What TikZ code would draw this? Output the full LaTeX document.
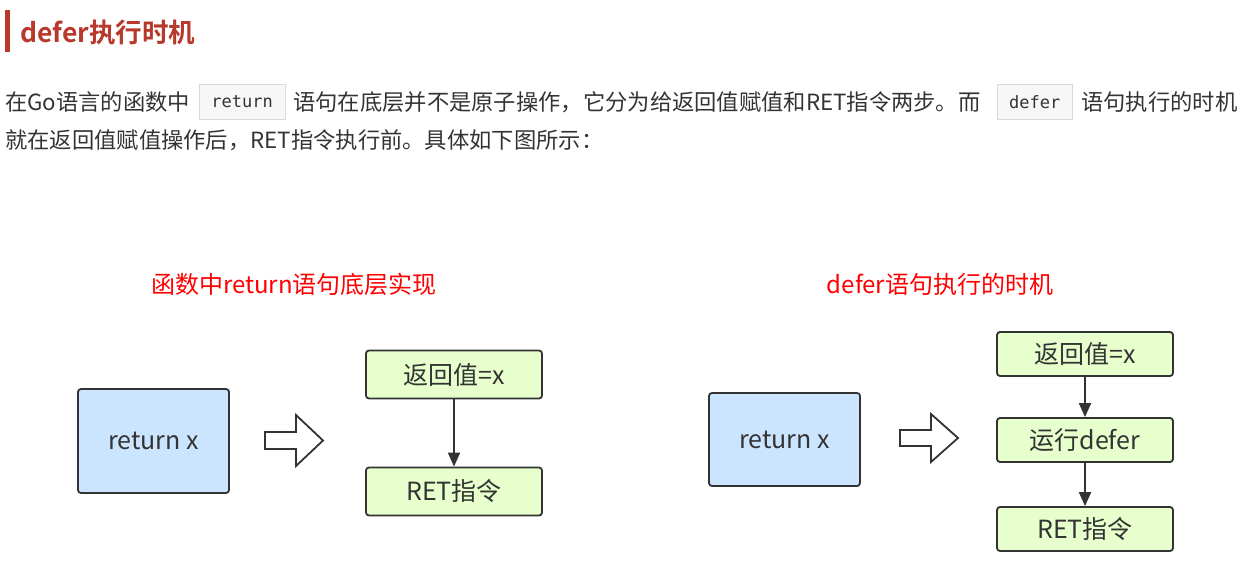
\documentclass[tikz,border=0pt]{standalone}
\usepackage{fontspec}
\setmainfont{Liberation Serif}
\newfontfamily\cjk{Noto Sans CJK SC}
\newfontfamily\cjkb{Noto Sans CJK SC Bold}
\setmonofont{DejaVu Sans Mono}
\usetikzlibrary{arrows.meta}
\definecolor{hred}{HTML}{B8392B}
\definecolor{tgray}{HTML}{333333}
\definecolor{bblue}{HTML}{CCE5FF}
\definecolor{bgreen}{HTML}{E6FFCC}
\definecolor{bord}{HTML}{333333}
\begin{document}
\begin{tikzpicture}[x=1pt,y=-1pt,
  txt/.style={anchor=west,inner sep=0pt,text=tgray,font=\cjk\fontsize{22.3}{24}\selectfont},
  code/.style={draw=black!15,fill=black!3,inner sep=0pt,minimum height=35pt,text=tgray,font=\ttfamily\fontsize{17}{18}\selectfont,anchor=west},
  box/.style={draw=bord,line width=1.8pt,rounded corners=3pt,inner sep=0pt,text=tgray,font=\cjk\fontsize{25}{26}\selectfont},
  blue/.style={box,fill=bblue,minimum width=151pt,minimum height=104pt},
  green/.style={box,fill=bgreen,minimum width=176pt,minimum height=48pt},
  ttl/.style={text=red,font=\cjk\fontsize{24}{25}\selectfont},
  arr/.style={draw=bord,line width=1.9pt,-{Triangle[length=14pt,width=12pt]}},
  hol/.style={draw=bord,line width=1.8pt,fill=white}]
\useasboundingbox (0,0) rectangle (1251,578);
\fill[hred] (5,10) rectangle (10,52);
\node[anchor=west,inner sep=0pt,text=hred,font=\cjkb\fontsize{26.5}{28}\selectfont] (h) at (20,32) {defer执行时机};
\node[txt] (l1a) at (5,102) {在Go语言的函数中};
\node[code,minimum width=86pt] (c1) at (199,102) {return};
\node[txt] (l1b) at (293,102) {语句在底层并不是原子操作，它分为给返回值赋值和RET指令两步。而};
\node[code,minimum width=75pt] (c2) at (997,102) {defer};
\node[txt] (l1c) at (1081,102) {语句执行的时机};
\node[txt] (l2) at (5,140) {就在返回值赋值操作后，RET指令执行前。具体如下图所示：};
\node[ttl] (t1) at (294,284) {函数中return语句底层实现};
\node[ttl] (t2) at (940,284) {defer语句执行的时机};
% left
\node[blue] (lb) at (153.5,441) {return x};
\node[green] (g1) at (454,374.5) {返回值=x};
\node[green] (g2) at (454,491.5) {RET指令};
\draw[arr] (g1) -- (g2);
\draw[hol] (265,432)--(296,432)--(296,415)--(323,440.5)--(296,466)--(296,449)--(265,449)--cycle;
% right
\node[blue,minimum height=93pt] (rb) at (784.5,439.5) {return x};
\node[green,minimum height=44pt] (r1) at (1085,354) {返回值=x};
\node[green,minimum height=44pt] (r2) at (1085,440) {运行defer};
\node[green,minimum height=44pt] (r3) at (1085,529) {RET指令};
\draw[arr] (r1) -- (r2);
\draw[arr] (r2) -- (r3);
\draw[hol] (900,430)--(931,430)--(931,414)--(958,438)--(931,462)--(931,446)--(900,446)--cycle;
\end{tikzpicture}
\end{document}
